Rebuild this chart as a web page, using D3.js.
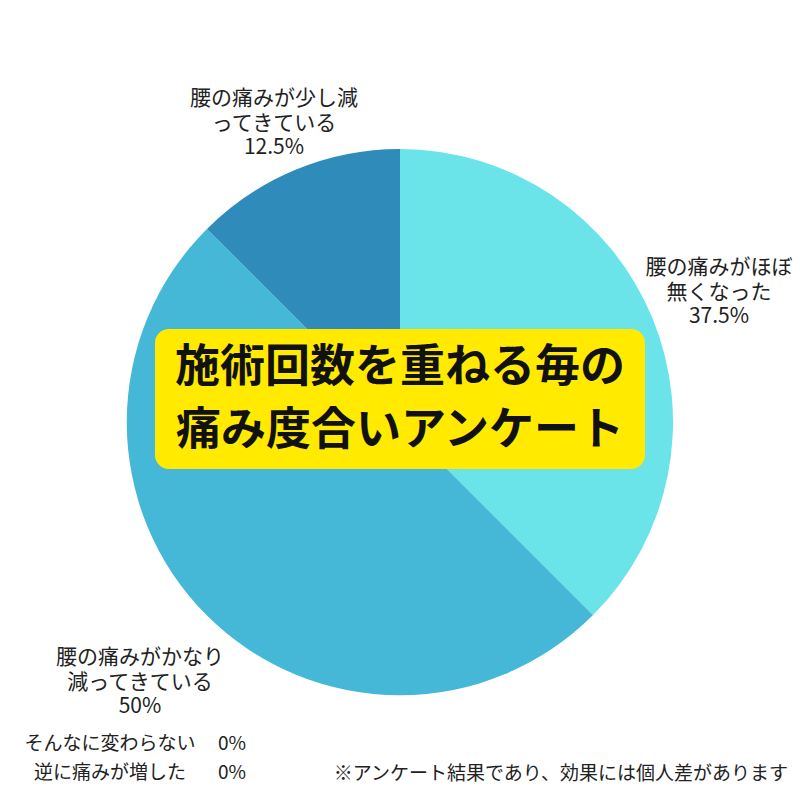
<!DOCTYPE html>
<html><head><meta charset="utf-8">
<script src="https://cdn.jsdelivr.net/npm/d3@7"></script>
<style>body{margin:0;background:#fff}svg{display:block}text{font-family:"Noto Sans CJK JP","Noto Sans",sans-serif;fill:#222}</style>
</head><body>
<script>
const categories = ["腰の痛みがほぼ\n無くなった", "腰の痛みがかなり\n減ってきている", "腰の痛みが少し減\nってきている"];
const values = [37.5, 50, 12.5];
const colors = ["#6ae4e9", "#44b8d6", "#2e8bba"];
const zeroCategories = ["そんなに変わらない", "逆に痛みが増した"];
const zeroValues = [0, 0];
const title = ["施術回数を重ねる毎の", "痛み度合いアンケート"];
const footnote = "※アンケート結果であり、効果には個人差があります";

const W = 800, H = 800;
const svg = d3.select("body").append("svg").attr("width", W).attr("height", H);
const cx = 400, cy = 422, R = 273;

const pie = d3.pie().sort(null).value(d => d)(values);
const arc = d3.arc().innerRadius(0).outerRadius(R);
const g = svg.append("g").attr("transform", `translate(${cx},${cy})`);
g.selectAll("path").data(pie).join("path").attr("d", arc).attr("fill", (d, i) => colors[i]);

// labels
const labelPos = [[719, 267], [140, 657], [274, 98]];
const lh = 24.5;
categories.forEach((c, i) => {
  const lines = c.split("\n").concat([values[i] + "%"]);
  const t = svg.append("text").attr("text-anchor", "middle").attr("font-size", 21);
  lines.forEach((l, j) => {
    t.append("tspan").attr("x", labelPos[i][0]).attr("y", labelPos[i][1] + j * lh).attr("dy", "0.35em").text(l);
  });
});

// zero items
zeroCategories.forEach((c, i) => {
  const y = 743 + i * 29;
  svg.append("text").attr("x", 110).attr("y", y).attr("dy", "0.35em").attr("text-anchor", "middle").attr("font-size", 19).text(c);
  svg.append("text").attr("x", 218).attr("y", y).attr("dy", "0.35em").attr("font-size", 19).text(zeroValues[i] + "%");
});

svg.append("text").attr("x", 788).attr("y", 773).attr("dy", "0.35em").attr("text-anchor", "end").attr("font-size", 19).text(footnote);

// title box
svg.append("rect").attr("x", 155).attr("y", 329).attr("width", 490).attr("height", 140).attr("rx", 14).attr("fill", "#ffea00");
title.forEach((l, i) => {
  svg.append("text").attr("x", 400).attr("y", 366 + i * 63).attr("dy", "0.35em").attr("text-anchor", "middle")
    .attr("font-size", 45).attr("font-weight", 700).style("fill", "#111").text(l);
});
</script>
</body></html>
